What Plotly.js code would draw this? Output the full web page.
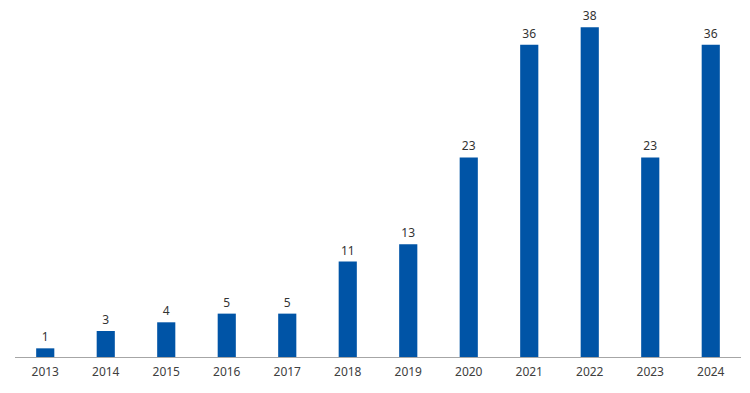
<!DOCTYPE html>
<html>
<head>
<meta charset="utf-8">
<script src="https://cdn.plot.ly/plotly-3.0.1.min.js"></script>
<style>html,body{margin:0;padding:0;background:#fff;}#chart{width:750px;height:393px;}</style>
</head>
<body>
<div id="chart"></div>
<script>
const years = ['2013','2014','2015','2016','2017','2018','2019','2020','2021','2022','2023','2024'];
const counts = [1, 3, 4, 5, 5, 11, 13, 23, 36, 38, 23, 36];

const trace = {
  type: 'bar',
  x: years,
  y: counts,
  text: counts.map(String),
  textposition: 'outside',
  cliponaxis: false,
  textfont: {family: 'Noto Sans, Open Sans, sans-serif', size: 12, color: '#333333'},
  marker: {color: '#0054A6'},
  width: 0.3,
  hoverinfo: 'x+y'
};

const layout = {
  width: 750, height: 393,
  margin: {l: 15, r: 9, t: 10, b: 36},
  paper_bgcolor: '#ffffff', plot_bgcolor: '#ffffff',
  showlegend: false,
  font: {family: 'Noto Sans, Open Sans, sans-serif', size: 12, color: '#404040'},
  xaxis: {
    type: 'category',
    showline: true, linecolor: '#a6a6a6', linewidth: 1,
    ticks: '', showgrid: false, zeroline: false,
    ticklabelstandoff: 4,
    tickfont: {size: 12, color: '#404040'}
  },
  yaxis: {
    range: [0, 40], visible: false, showgrid: false, zeroline: false
  }
};

Plotly.newPlot('chart', [trace], layout, {displayModeBar: false, staticPlot: true});
</script>
</body>
</html>
